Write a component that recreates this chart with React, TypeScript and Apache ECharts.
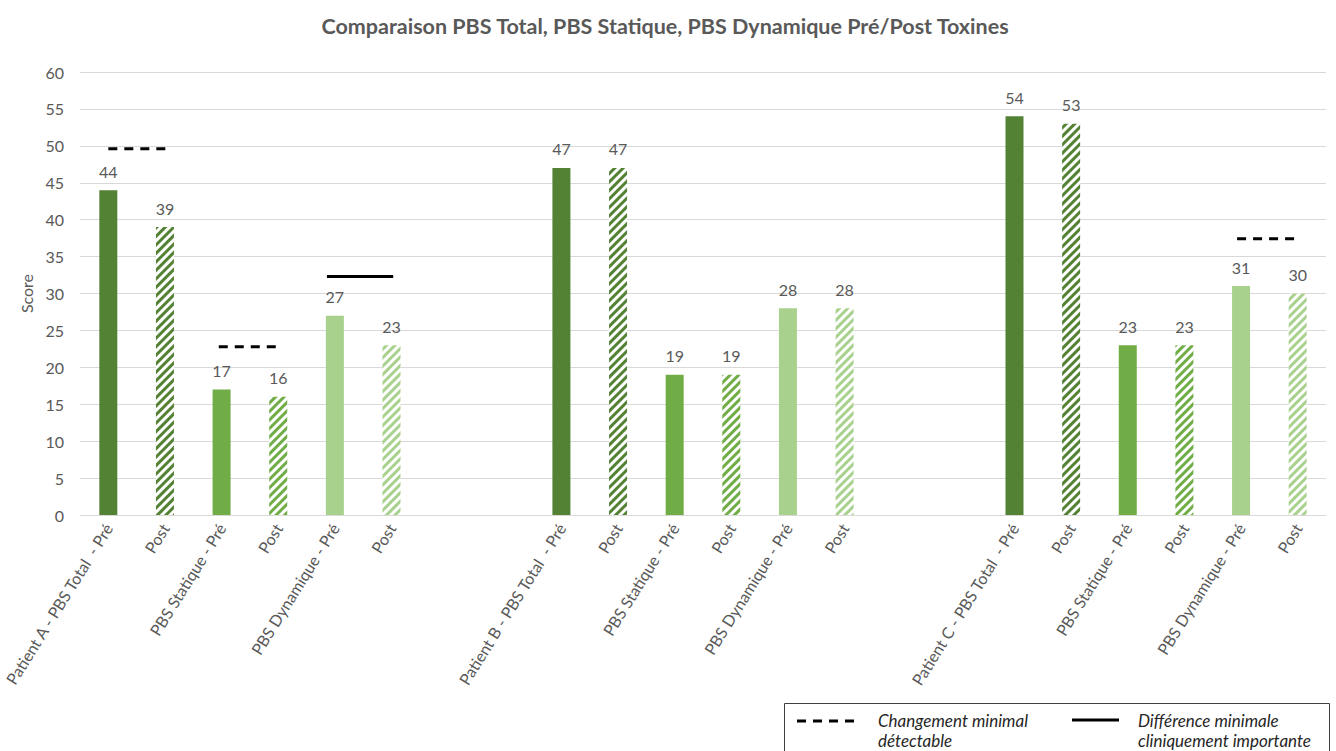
import React, { useEffect, useRef } from "react";
import * as echarts from "echarts";

const categories = [
  "Patient A - PBS Total  - Pré", "Post", "PBS Statique - Pré", "Post", "PBS Dynamique - Pré", "Post",
  "", "",
  "Patient B - PBS Total  - Pré", "Post", "PBS Statique - Pré", "Post", "PBS Dynamique - Pré", "Post",
  "", "",
  "Patient C - PBS Total  - Pré", "Post", "PBS Statique - Pré", "Post", "PBS Dynamique - Pré", "Post",
];
const scores: (number | null)[] = [
  44, 39, 17, 16, 27, 23,
  null, null,
  47, 47, 19, 19, 28, 28,
  null, null,
  54, 53, 23, 23, 31, 30,
];
// bar kind per category: 0 total, 1 statique, 2 dynamique; -1 empty
const kinds = [0, 0, 1, 1, 2, 2, -1, -1, 0, 0, 1, 1, 2, 2, -1, -1, 0, 0, 1, 1, 2, 2];
const isPost = [false, true, false, true, false, true, false, false, false, true, false, true, false, true, false, false, false, true, false, true, false, true];
const kindColors = ["#548235", "#70AD47", "#A9D18E"];

// Reference lines: [xStart, xEnd] on category index scale, value
const mdcLines: [number, number, number][] = [
  [0.0, 1.1, 49.6],
  [1.95, 3.07, 22.8],
  [19.93, 21.0, 37.4],
];
const mcidLines: [number, number, number][] = [
  [3.86, 5.03, 32.3],
];

const FONT = "Lato, 'Open Sans', sans-serif";

export default function App() {
  const ref = useRef<HTMLDivElement>(null);
  useEffect(() => {
    if (!ref.current) return;
    const chart = echarts.init(ref.current, undefined, { renderer: "svg" });
    const barData = scores.map((v, i) => {
      if (v === null) return { value: null };
      const c = kindColors[kinds[i]];
      if (!isPost[i]) return { value: v, itemStyle: { color: c } };
      return {
        value: v,
        itemStyle: {
          color: "#ffffff",
          decal: {
            symbol: "rect",
            symbolSize: 1,
            color: c,
            dashArrayX: [1, 0],
            dashArrayY: [2.2, 2.6],
            rotation: -Math.PI / 4,
          },
        },
      };
    });
    const lineSeries: any[] = [];
    mdcLines.forEach(([a, b, y]) =>
      lineSeries.push({
        type: "line",
        xAxisIndex: 1,
        yAxisIndex: 0,
        data: [[a, y], [b, y]],
        symbol: "none",
        silent: true,
        lineStyle: { color: "#000", width: 3, type: [9, 7] },
      })
    );
    mcidLines.forEach(([a, b, y]) =>
      lineSeries.push({
        type: "line",
        xAxisIndex: 1,
        yAxisIndex: 0,
        data: [[a, y], [b, y]],
        symbol: "none",
        silent: true,
        lineStyle: { color: "#000", width: 3, type: "solid" },
      })
    );
    chart.setOption({
      animation: false,
      backgroundColor: "#ffffff",
      textStyle: { fontFamily: FONT },
      title: {
        text: "Comparaison PBS Total, PBS Statique, PBS Dynamique Pré/Post Toxines",
        left: 660,
        textAlign: "center",
        top: 10,
        textStyle: { fontFamily: FONT, fontSize: 21.5, fontWeight: "bold", color: "#595959" },
      },
      grid: { left: 80, right: 10, top: 72, bottom: 236 },
      xAxis: [
        {
          type: "category",
          data: categories,
          axisTick: { show: false },
          axisLine: { lineStyle: { color: "#d9d9d9" } },
          axisLabel: {
            interval: 0,
            rotate: 58,
            color: "#595959",
            fontSize: 16,
            fontFamily: FONT,
            margin: 10,
          },
        },
        {
          type: "value",
          min: -0.5,
          max: 21.5,
          show: false,
        },
      ],
      yAxis: {
        type: "value",
        min: 0,
        max: 60,
        interval: 5,
        name: "Score",
        nameLocation: "middle",
        nameGap: 46,
        nameTextStyle: { color: "#595959", fontSize: 16, fontFamily: FONT },
        axisLabel: { color: "#595959", fontSize: 16, fontFamily: FONT, margin: 16 },
        axisLine: { show: false },
        axisTick: { show: false },
        splitLine: { lineStyle: { color: "#d9d9d9" } },
      },
      series: [
        {
          type: "bar",
          data: barData,
          barWidth: 18,
          label: {
            show: true,
            position: "top",
            distance: 11,
            color: "#595959",
            fontSize: 16,
            fontFamily: FONT,
          },
        },
        ...lineSeries,
      ],
      graphic: [
        {
          type: "rect",
          shape: { x: 784.5, y: 703.5, width: 545, height: 60 },
          style: { fill: "#fff", stroke: "#404040", lineWidth: 1 },
        },
        {
          type: "line",
          shape: { x1: 797, y1: 721, x2: 861, y2: 721 },
          style: { stroke: "#000", lineWidth: 3, lineDash: [9, 7] },
        },
        {
          type: "text",
          x: 878,
          y: 720,
          style: {
            text: "Changement minimal",
            font: `italic 17px ${FONT}`,
            fill: "#262626",
            verticalAlign: "middle",
          },
        },
        {
          type: "text",
          x: 878,
          y: 740,
          style: {
            text: "détectable",
            font: `italic 17px ${FONT}`,
            fill: "#262626",
            verticalAlign: "middle",
          },
        },
        {
          type: "line",
          shape: { x1: 1072, y1: 720, x2: 1119, y2: 720 },
          style: { stroke: "#000", lineWidth: 3 },
        },
        {
          type: "text",
          x: 1138,
          y: 720,
          style: {
            text: "Différence minimale",
            font: `italic 17px ${FONT}`,
            fill: "#262626",
            verticalAlign: "middle",
          },
        },
        {
          type: "text",
          x: 1138,
          y: 740,
          style: {
            text: "cliniquement importante",
            font: `italic 17px ${FONT}`,
            fill: "#262626",
            verticalAlign: "middle",
          },
        },
      ],
    });
    return () => chart.dispose();
  }, []);
  return <div ref={ref} style={{ width: 1336, height: 751, position: "absolute", left: 0, top: 0 }} />;
}
